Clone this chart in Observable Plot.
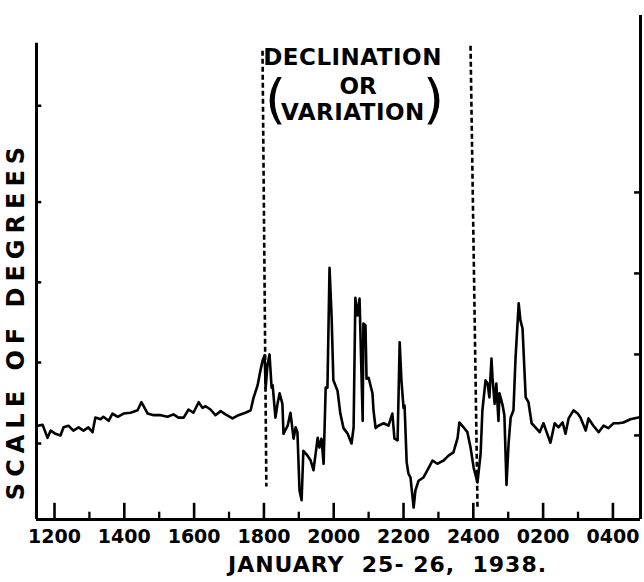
<!DOCTYPE html>
<html>
<head>
<meta charset="utf-8">
<script src="https://cdn.jsdelivr.net/npm/d3@7"></script>
<script src="https://cdn.jsdelivr.net/npm/@observablehq/plot@0.6"></script>
<style>
  html, body { margin: 0; padding: 0; background: #fff; }
  svg text { white-space: pre; }
</style>
</head>
<body>
<div id="chart"></div>
<script>
// Hours after 12:00 on January 25 (0 = 1200, 12 = 2400, 16 = 0400)
const time = [-0.49,-0.34,-0.20,-0.11,0.03,0.17,0.26,0.40,0.54,0.69,
  0.83,0.97,1.09,1.17,1.32,1.40,1.55,1.66,1.81,1.98,
  2.18,2.38,2.49,2.67,2.84,3.04,3.24,3.41,3.55,3.70,
  3.84,3.98,4.13,4.24,4.33,4.47,4.61,4.76,4.90,5.10,
  5.27,5.47,5.62,5.70,5.82,5.90,5.96,6.02,6.05,6.10,
  6.16,6.22,6.25,6.33,6.39,6.45,6.53,6.56,6.68,6.76,
  6.85,6.91,6.96,7.02,7.08,7.13,7.25,7.34,7.42,7.54,
  7.59,7.65,7.71,7.77,7.82,7.88,7.94,7.99,8.11,8.19,
  8.28,8.40,8.51,8.57,8.62,8.68,8.74,8.80,8.83,8.85,
  8.91,8.94,9.00,9.11,9.14,9.20,9.28,9.43,9.57,9.68,
  9.74,9.83,9.89,9.94,10.00,10.03,10.09,10.14,10.20,10.29,
  10.34,10.43,10.57,10.72,10.83,10.97,11.06,11.15,11.29,11.43,
  11.55,11.60,11.72,11.83,11.92,12.01,12.12,12.21,12.26,12.35,
  12.41,12.46,12.52,12.55,12.61,12.66,12.72,12.75,12.84,12.89,
  12.95,13.01,13.07,13.15,13.21,13.30,13.35,13.41,13.50,13.58,
  13.67,13.78,13.90,14.01,14.10,14.21,14.33,14.44,14.56,14.64,
  14.73,14.87,14.99,15.07,15.22,15.30,15.44,15.59,15.73,15.87,
  16.02,16.16,16.30,16.50,16.73,16.79];

// Declination trace, in scale divisions
const deflection = [1.22,1.23,1.07,1.16,1.12,1.10,1.20,1.22,1.16,1.20,
  1.16,1.20,1.14,1.32,1.30,1.33,1.28,1.37,1.33,1.37,
  1.38,1.41,1.51,1.37,1.35,1.35,1.33,1.36,1.32,1.32,
  1.42,1.38,1.51,1.44,1.46,1.42,1.35,1.40,1.36,1.31,
  1.35,1.38,1.41,1.56,1.72,1.90,2.02,2.09,1.68,1.96,
  2.10,1.69,1.72,1.32,1.49,1.62,1.49,1.12,1.22,1.38,
  1.06,1.20,1.14,0.42,0.30,0.91,0.85,0.79,0.67,1.07,
  0.95,1.06,0.75,1.69,1.69,3.17,2.56,1.78,1.65,1.37,
  1.19,1.12,1.00,1.20,2.80,2.58,2.79,1.78,1.28,2.48,
  2.46,1.80,1.81,1.62,1.41,1.19,1.22,1.25,1.22,1.37,
  1.06,1.04,2.25,1.78,1.44,1.47,0.77,0.63,0.58,0.21,
  0.42,0.54,0.58,0.70,0.79,0.75,0.77,0.79,0.85,0.89,
  1.07,1.26,1.20,1.14,0.95,0.70,0.52,0.88,1.41,1.78,
  1.74,1.57,2.05,1.81,1.49,1.74,1.28,1.62,1.47,1.35,
  0.49,1.00,1.32,1.41,2.06,2.73,2.52,2.42,1.57,1.51,
  1.25,1.20,1.14,1.25,1.14,1.01,1.25,1.20,1.26,1.12,
  1.31,1.41,1.37,1.32,1.16,1.31,1.22,1.14,1.22,1.19,
  1.25,1.25,1.26,1.30,1.32,1.33];

const majorHours = [0, 2, 4, 6, 8, 10, 12, 14, 16];
const minorHours = [1, 3, 5, 7, 9, 11, 13, 15];
const tickLabels = ["1200", "1400", "1600", "1800", "2000", "2200", "2400", "0200", "0400"];
const leftTicks = [1, 2, 2.99, 3.98, 5.17];
const rightTicks = [1.10, 2.10, 3.10, 4.10];

// dashed markers around the declination storm
const markerTopHour = [5.96, 11.92];
const markerBottomHour = [6.07, 12.12];
const markerTopValue = [5.85, 5.91];
const markerBottomValue = [0.47, 0.21];

const titleLines = ["DECLINATION", "OR", "VARIATION"];
const titleHours = [8.54, 8.70, 8.55];
const titleValues = [5.77, 5.41, 5.08];
const parens = ["(", ")"];
const parenHours = [6.33, 10.86];
const parenValues = [5.23, 5.23];

const yLabel = "SCALE OF DEGREES";
const caption = "JANUARY  25- 26,  1938.";

const xDomain = [-0.516, 16.79];
const yDomain = [0.062, 6.284];
const leftAxisTop = 5.94;

const trace = time.map((t, i) => ({t, v: deflection[i]}));
const markers = markerTopHour.map((h, i) => ({x1: h, y1: markerTopValue[i], x2: markerBottomHour[i], y2: markerBottomValue[i]}));
const title = titleLines.map((s, i) => ({s, x: titleHours[i], y: titleValues[i]}));
const parenData = parens.map((s, i) => ({s, x: parenHours[i], y: parenValues[i]}));
const labels = tickLabels.map((s, i) => ({s, x: majorHours[i]}));

const chart = Plot.plot({
  width: 644,
  height: 582,
  marginTop: 15,
  marginBottom: 63,
  marginLeft: 36,
  marginRight: 4,
  x: {domain: xDomain, axis: null},
  y: {domain: yDomain, axis: null},
  style: {fontFamily: "DejaVu Sans", background: "white", color: "black"},
  marks: [
    // frame
    Plot.ruleX([xDomain[0]], {y1: yDomain[0], y2: leftAxisTop, strokeWidth: 3}),
    Plot.ruleX([xDomain[1]], {y1: yDomain[0], y2: yDomain[1], strokeWidth: 3}),
    Plot.ruleY([yDomain[0]], {x1: xDomain[0], x2: xDomain[1], strokeWidth: 3}),
    // inner ticks
    Plot.ruleY(leftTicks, {x1: xDomain[0], x2: xDomain[0] + 0.15, strokeWidth: 2.5}),
    Plot.ruleY(rightTicks, {x1: xDomain[1] - 0.17, x2: xDomain[1], strokeWidth: 2.5}),
    Plot.ruleX(majorHours, {y1: yDomain[0], y2: yDomain[0] + 0.2, strokeWidth: 2.6}),
    Plot.ruleX(minorHours, {y1: yDomain[0], y2: yDomain[0] + 0.09, strokeWidth: 2.3}),
    // tick labels
    Plot.text(labels, {x: "x", y: yDomain[0], text: "s", dy: 17, fontSize: 19, fontWeight: "bold", lineAnchor: "middle"}),
    // dashed markers
    Plot.link(markers, {x1: "x1", y1: "y1", x2: "x2", y2: "y2", strokeWidth: 2.6, strokeDasharray: "5,3"}),
    // trace
    Plot.line(trace, {x: "t", y: "v", strokeWidth: 2.6, strokeLinejoin: "round"}),
    // title
    Plot.text(title, {x: "x", y: "y", text: "s", fontSize: 23, fontWeight: "bold", lineAnchor: "middle"}),
    Plot.text(parenData, {x: "x", y: "y", text: "s", fontSize: 54, fontWeight: "normal", lineAnchor: "middle"}),
    // axis label and caption
    Plot.text([yLabel], {frameAnchor: "left", textAnchor: "middle", dx: -20, dy: 53, rotate: -90, fontSize: 24, fontWeight: "bold", lineAnchor: "middle"}),
    Plot.text([caption], {frameAnchor: "bottom", textAnchor: "middle", dx: 49, dy: 45, fontSize: 22, fontWeight: "bold", lineAnchor: "middle"})
  ]
});

const spacing = {"SCALE OF DEGREES": "6px", "DECLINATION": "0.5px", "VARIATION": "0.5px", "JANUARY  25- 26,  1938.": "1px"};
chart.querySelectorAll("text").forEach(t => {
  const s = spacing[t.textContent];
  if (s) t.setAttribute("letter-spacing", s);
});
document.getElementById("chart").appendChild(chart);
</script>
</body>
</html>
